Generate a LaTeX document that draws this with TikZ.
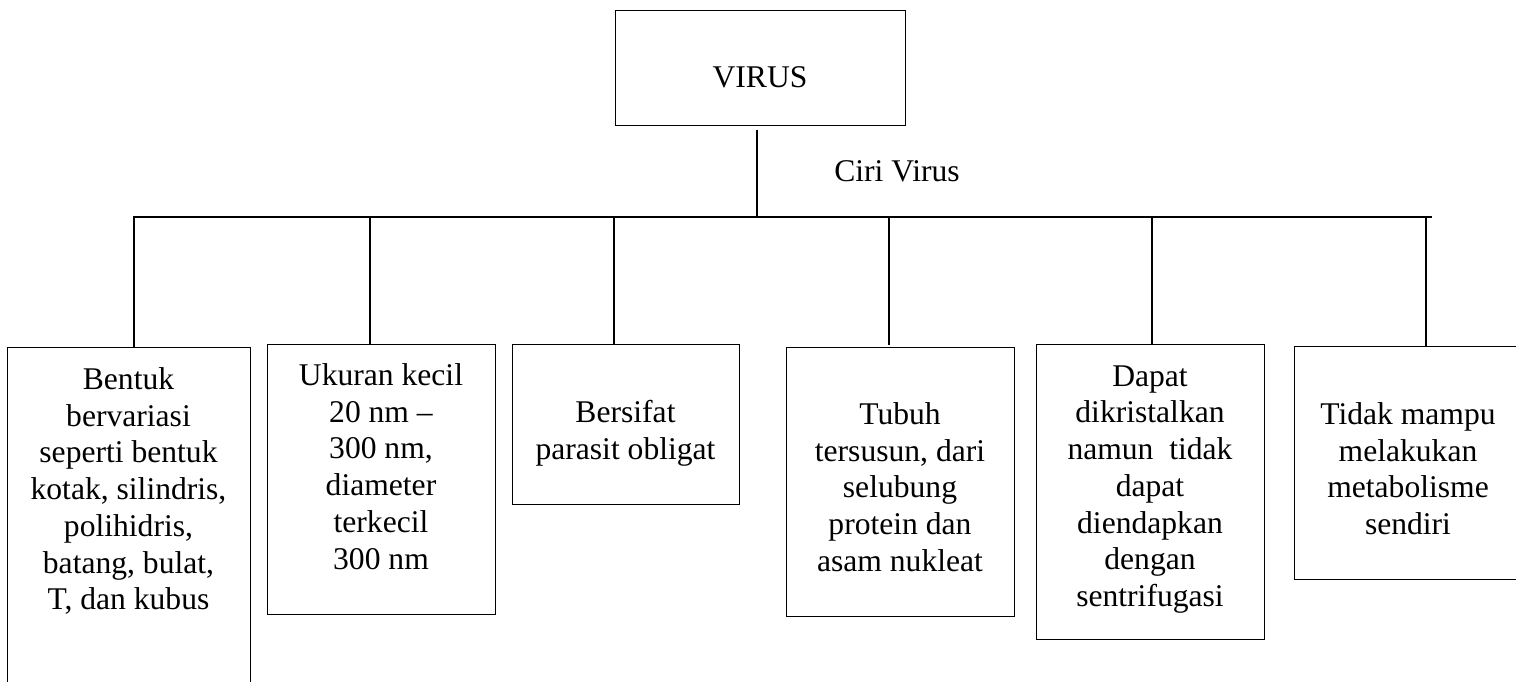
\documentclass[tikz,border=0pt]{standalone}
\usepackage{fontspec}
\setmainfont{Liberation Serif}
\begin{document}
\begin{tikzpicture}[x=1pt,y=-1pt,
  line width=1.2pt,
  boxframe/.style={draw, line width=1.3pt, rectangle, inner sep=0pt, anchor=north west},
  boxtext/.style={inner sep=0pt, anchor=north, align=center,
    font=\fontsize{31.6}{36.7}\selectfont},
  link/.style={draw, line width=1.2pt}]
\useasboundingbox (0,0) rectangle (1516,682);
\clip (0,0) rectangle (1516,682);

% root box
\node[boxframe, minimum width=290pt, minimum height=115pt] (virus) at (615,10) {};
\node[inner sep=0pt, anchor=base, font=\fontsize{31.6}{36.7}\selectfont] (virustxt) at (760,87.3) {VIRUS};

% trunk and bus
\coordinate (hub) at (757,217);
\coordinate (busL) at (133,217);
\coordinate (busR) at (1432,217);
\path[link, shorten >=4pt] (hub) -- (hub |- virus.south);
\path[link] (busL) -- (busR);
\node[inner sep=0pt, anchor=base, font=\fontsize{31.6}{36.7}\selectfont] (ciri) at (897,181.7) {Ciri Virus};

% child boxes
\node[boxframe, minimum width=243pt, minimum height=360pt] (b1) at (7,347) {};
\node[boxframe, minimum width=228pt, minimum height=270pt] (b2) at (267,344) {};
\node[boxframe, minimum width=227pt, minimum height=160pt] (b3) at (512,344) {};
\node[boxframe, minimum width=228pt, minimum height=269pt] (b4) at (786,347) {};
\node[boxframe, minimum width=228pt, minimum height=295pt] (b5) at (1036,344) {};
\node[boxframe, minimum width=236pt, minimum height=233pt] (b6) at (1294,346) {};

% texts
\node[boxtext] (t1) at (128.5,367) {Bentuk\\bervariasi\\seperti bentuk\\kotak, silindris,\\polihidris,\\batang, bulat,\\T, dan kubus};
\node[boxtext] (t2) at (381,363) {Ukuran kecil\\20 nm –\\300 nm,\\diameter\\terkecil\\300 nm};
\node[boxtext] (t3) at (625.5,400) {Bersifat\\parasit obligat};
\node[boxtext] (t4) at (900,402) {Tubuh\\tersusun, dari\\selubung\\protein dan\\asam nukleat};
\node[boxtext] (t5) at (1150,365) {Dapat\\dikristalkan\\namun~~tidak\\dapat\\diendapkan\\dengan\\sentrifugasi};
\node[boxtext] (t6) at (1408,402) {Tidak mampu\\melakukan\\metabolisme\\sendiri};

% drops from the bus
\coordinate (d1) at (134,217);
\coordinate (d2) at (370,217);
\coordinate (d3) at (614,217);
\coordinate (d4) at (889,217);
\coordinate (d5) at (1152,217);
\coordinate (d6) at (1426,217);
\path[link] (d1) -- (d1 |- b1.north);
\path[link] (d2) -- (d2 |- b2.north);
\path[link] (d3) -- (d3 |- b3.north);
\path[link, shorten >=2pt] (d4) -- (d4 |- b4.north);
\path[link] (d5) -- (d5 |- b5.north);
\path[link] (d6) -- (d6 |- b6.north);
\end{tikzpicture}
\end{document}
